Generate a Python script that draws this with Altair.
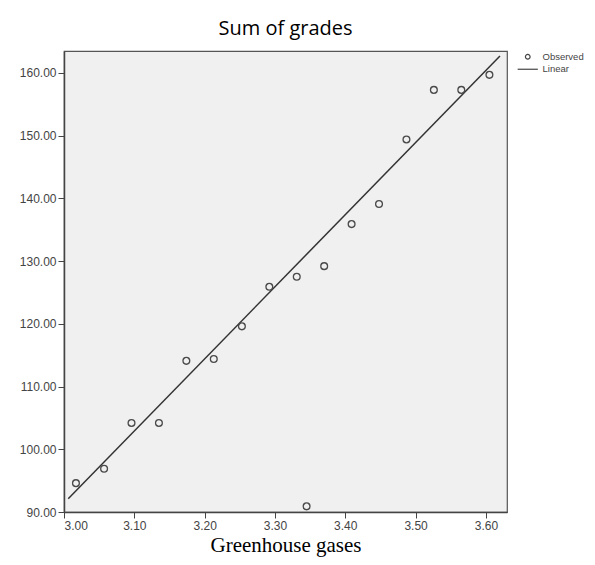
import altair as alt
import pandas as pd

# Observed points (Greenhouse gases vs Sum of grades)
obs_x = [3.017, 3.057, 3.096, 3.135, 3.174, 3.213, 3.253, 3.292, 3.331, 3.370,
         3.409, 3.448, 3.487, 3.526, 3.565, 3.605, 3.345]
obs_y = [94.6, 96.9, 104.2, 104.2, 114.1, 114.4, 119.6, 125.9, 127.5, 129.2,
         135.9, 139.1, 149.4, 157.3, 157.3, 159.7, 90.9]

# Linear fit line end points
fit_x = [3.006, 3.620]
fit_y = [92.1, 162.7]

x_ticks = [3.0, 3.1, 3.2, 3.3, 3.4, 3.5, 3.6]
y_ticks = [90, 100, 110, 120, 130, 140, 150, 160]

obs = pd.DataFrame({"x": obs_x, "y": obs_y, "series": ["Observed"] * len(obs_x)})
fit = pd.DataFrame({"x": fit_x, "y": fit_y})

lab_font = "Liberation Sans Narrow, Liberation Sans, Arial"

xs = alt.Scale(domain=[3.0, 3.63], nice=False, zero=False)
ys = alt.Scale(domain=[90, 163.5], nice=False, zero=False)

x_axis = alt.Axis(values=x_ticks, format=".2f", title="Greenhouse gases",
                  titleFont="Liberation Serif", titleFontSize=21, titleFontWeight="normal",
                  titleColor="#000000", titleBaseline="alphabetic", titleY=39,
                  labelFont=lab_font, labelFontSize=12, labelColor="#444444",
                  tickSize=6, tickColor="#444444", domainColor="#444444",
                  domainWidth=1.5, grid=False, labelPadding=2)
y_axis = alt.Axis(values=y_ticks, format=".2f", title=None,
                  labelFont=lab_font, labelFontSize=12, labelColor="#444444",
                  tickSize=6, tickColor="#444444", domainColor="#444444",
                  domainWidth=1.5, grid=False, labelPadding=2)

points = alt.Chart(obs).mark_point(
    filled=False, size=46, strokeWidth=1.3, color="#4a4a4a", opacity=1, clip=True
).encode(
    x=alt.X("x:Q", scale=xs, axis=x_axis),
    y=alt.Y("y:Q", scale=ys, axis=y_axis),
    shape=alt.Shape("series:N",
                    scale=alt.Scale(domain=["Observed", "Linear"],
                                    range=["circle", "M-4.3,0H4.3"]),
                    legend=alt.Legend(title=None, orient="none", legendX=459, legendY=1,
                                      symbolSize=22, symbolStrokeWidth=1.2,
                                      symbolStrokeColor="#444444", symbolFillColor="transparent",
                                      labelFont=lab_font, labelFontSize=9.5,
                                      labelColor="#444444", labelOffset=10,
                                      rowPadding=1.5, padding=0)),
)

line = alt.Chart(fit).mark_line(color="#333333", strokeWidth=1.5).encode(
    x=alt.X("x:Q", scale=xs),
    y=alt.Y("y:Q", scale=ys),
)

chart = alt.layer(line, points).properties(
    width=443,
    height=461,
    title=alt.TitleParams("Sum of grades", font="Open Sans", fontSize=20,
                          fontWeight="normal", color="#000000", offset=12, anchor="middle"),
    padding={"left": 56, "top": 43, "right": 80, "bottom": 45},
    autosize=alt.AutoSizeParams(type="none"),
).configure(
    background="white"
).configure_view(
    fill="#f0f0f0", stroke="#555555", strokeWidth=1.2
)

chart.save("out.html", embed_options={"renderer": "svg", "actions": False})
